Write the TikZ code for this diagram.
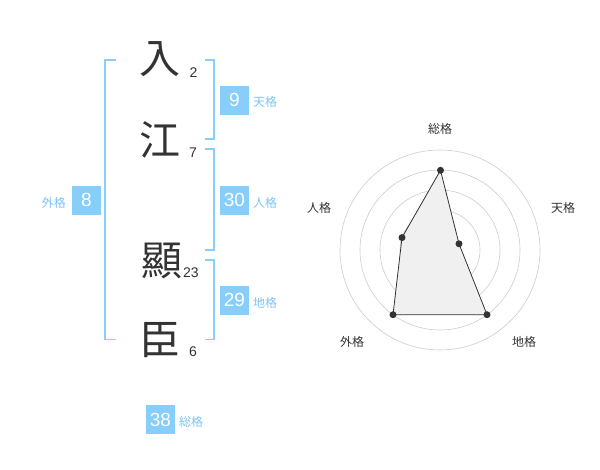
\documentclass[tikz,border=0pt]{standalone}
\usepackage{fontspec}
\setmainfont{Liberation Sans}
\newfontfamily\cjk{Noto Sans CJK JP}
\definecolor{sky}{RGB}{135,206,250}
\definecolor{skytext}{RGB}{125,196,245}
\definecolor{ink}{RGB}{51,51,51}
\definecolor{ring}{RGB}{204,204,204}
\begin{document}
\begin{tikzpicture}[x=1pt,y=-1pt,
  kanji/.style={font=\cjk\fontsize{41}{41}\selectfont, text=ink, inner sep=0pt},
  strokes/.style={font=\fontsize{14}{14}\selectfont, text=ink, inner sep=0pt},
  valbox/.style={fill=sky, text=white, minimum width=29pt, minimum height=29pt, inner sep=0pt, font=\fontsize{19}{19}\selectfont},
  kaku/.style={font=\cjk\fontsize{12}{12}\selectfont, text=skytext, inner sep=0pt},
  bracket/.style={draw=sky, line width=1.9pt},
  radlab/.style={font=\cjk\fontsize{12}{12}\selectfont, text=ink, inner sep=0pt},
  ringline/.style={draw=ring, line width=0.6pt},
  dot/.style={circle, fill=ink, inner sep=0pt, minimum size=7pt}]
\useasboundingbox (0,0) rectangle (600,470);
% characters
\node[kanji] (k1) at (160,59) {入};
\node[kanji] (k2) at (160,140) {江};
\node[kanji] (k3) at (161.5,261) {顯};
\node[kanji] (k4) at (160,340) {臣};
\node[strokes] (s1) at (193.5,72.7) {2};
\node[strokes] (s2) at (193,153) {7};
\node[strokes] (s3) at (191,272.7) {23};
\node[strokes] (s4) at (193,352) {6};
% brackets
\draw[bracket] (116,60) -- (105,60) -- (105,339.5) -- (116,339.5);
\draw[bracket] (205,60) -- (214.3,60) -- (214.3,139.3) -- (205,139.3);
\draw[bracket] (205,149.3) -- (214.3,149.3) -- (214.3,250) -- (205,250);
\draw[bracket] (205,260) -- (214.3,260) -- (214.3,339.5) -- (205,339.5);
% values
\node[valbox] (v9) at (234.5,100.3) {9};
\node[kaku, anchor=west] (l9) at (253,102) {天格};
\node[valbox] (v30) at (234.5,200.3) {30};
\node[kaku, anchor=west] (l30) at (253,203) {人格};
\node[valbox] (v29) at (234.5,300.3) {29};
\node[kaku, anchor=west] (l29) at (253,303) {地格};
\node[valbox] (v8) at (86.3,200.3) {8};
\node[kaku, anchor=east] (l8) at (66,203) {外格};
\node[valbox] (v38) at (160.5,419.5) {38};
\node[kaku, anchor=west] (l38) at (179,422) {総格};
% radar
\coordinate (c) at (440,250);
\foreach \r in {20,40,60,80,100} \draw[ringline] (c) circle[radius=\r];
\fill[ring] (c) circle[radius=3];
\coordinate (pS) at (440.5,170.3);
\coordinate (pT) at (459.0,243.8);
\coordinate (pC) at (487.0,314.7);
\coordinate (pG) at (393.0,314.7);
\coordinate (pJ) at (402.0,237.6);
\draw[ink, line width=0.8pt, fill=black!6] (pS) -- (pT) -- (pC) -- (pG) -- (pJ) -- cycle;
\foreach \p in {pS,pT,pC,pG,pJ} \node[dot] at (\p) {};
\node[radlab] (rS) at (440,129) {総格};
\node[radlab] (rT) at (563,208) {天格};
\node[radlab] (rC) at (524,342) {地格};
\node[radlab] (rG) at (352,342) {外格};
\node[radlab] (rJ) at (319,208) {人格};
\end{tikzpicture}
\end{document}
